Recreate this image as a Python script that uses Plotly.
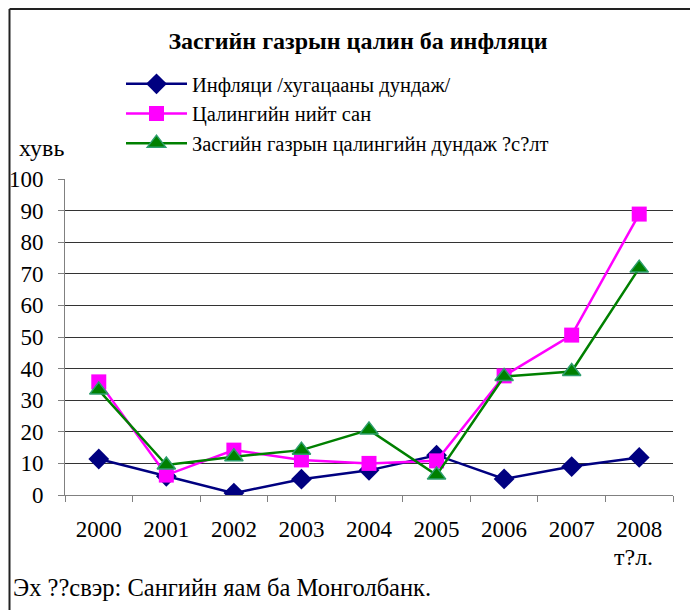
import plotly.graph_objects as go

years = ["2000", "2001", "2002", "2003", "2004", "2005", "2006", "2007", "2008"]
inflation = [11.4, 5.9, 0.6, 5.0, 7.8, 12.6, 5.1, 9.0, 11.9]
wage_fund = [35.8, 6.3, 14.2, 11.1, 10.0, 10.8, 37.7, 50.6, 88.9]
gov_wage = [33.2, 9.5, 12.1, 14.2, 20.6, 6.3, 37.5, 39.1, 71.8]

names = [
    "Инфляци /хугацааны дундаж/",
    "Цалингийн нийт сан",
    "Засгийн газрын цалингийн дундаж ?с?лт",
]

FONT = "Times New Roman, Liberation Serif, DejaVu Serif, serif"
OFF = 8  # page body margin

# plot area in screen pixels: x 65..673, y 179..495
L, T = 65 - OFF, 179 - OFF
R, B = 698 - (673 - OFF), 610 - (495 - OFF)
W, H = 698 - L - R, 610 - T - B


def px(x):
    return (x - OFF - L) / W


def py(y):
    return (610 - B - (y - OFF)) / H


fig = go.Figure()
fig.add_trace(go.Scatter(
    x=years, y=inflation, name=names[0], mode="lines+markers",
    line=dict(color="#000080", width=2.5),
    marker=dict(symbol="diamond", size=16, color="#000080"),
))
fig.add_trace(go.Scatter(
    x=years, y=wage_fund, name=names[1], mode="lines+markers",
    line=dict(color="#FF00FF", width=2.5),
    marker=dict(symbol="square", size=15, color="#FF00FF"),
))
fig.add_trace(go.Scatter(
    x=years, y=gov_wage, name=names[2], mode="lines+markers",
    line=dict(color="#008000", width=2.5),
    marker=dict(symbol="triangle-up", size=16, color="#008000",
                line=dict(color="#2E9E6E", width=1.5)),
))

fig.update_layout(
    width=698, height=610,
    paper_bgcolor="white", plot_bgcolor="white",
    font=dict(family=FONT, size=23, color="black"),
    margin=dict(l=L, r=R, t=T, b=B),
    title=dict(text="<b>Засгийн газрын цалин ба инфляци</b>",
               x=(358 - OFF) / 698, xanchor="center", y=1 - (41 - OFF) / 610,
               yanchor="middle", font=dict(family=FONT, size=24, color="black")),
    legend=dict(x=px(121), y=py(64), xanchor="left", yanchor="top",
                bgcolor="rgba(0,0,0,0)", font=dict(family=FONT, size=20.5),
                itemwidth=61),
    xaxis=dict(type="category", showgrid=False, showline=True, linecolor="#808080",
               ticks="outside", tickson="boundaries", ticklen=6, tickcolor="#808080",
               ticklabelstandoff=13, range=[-0.5, 8.5], zeroline=False, automargin=False),
    yaxis=dict(range=[0, 100], dtick=10, showgrid=True, gridcolor="#333333", gridwidth=1,
               showline=True, linecolor="#808080", ticks="outside", ticklen=6,
               tickcolor="#808080", zeroline=False, ticklabelstandoff=10, automargin=False),
    shapes=[
        dict(type="line", xref="paper", yref="paper", x0=px(9.5), x1=px(710),
             y0=py(9), y1=py(9), line=dict(color="#222222", width=2)),
        dict(type="line", xref="paper", yref="paper", x0=px(9.5), x1=px(9.5),
             y0=py(9), y1=py(620), line=dict(color="#222222", width=2)),
    ],
    annotations=[
        dict(text="хувь", xref="paper", yref="paper", x=px(17), y=py(148),
             xanchor="left", yanchor="middle", showarrow=False, font=dict(size=24)),
        dict(text="т?л.", xref="paper", yref="paper", x=px(633), y=py(557),
             xanchor="center", yanchor="middle", showarrow=False, font=dict(size=24)),
        dict(text="Эх ??свэр: Сангийн яам ба Монголбанк.", xref="paper", yref="paper",
             x=px(11), y=py(587), xanchor="left", yanchor="middle", showarrow=False,
             font=dict(size=24.5)),
    ],
)

fig.write_html("out.html")
